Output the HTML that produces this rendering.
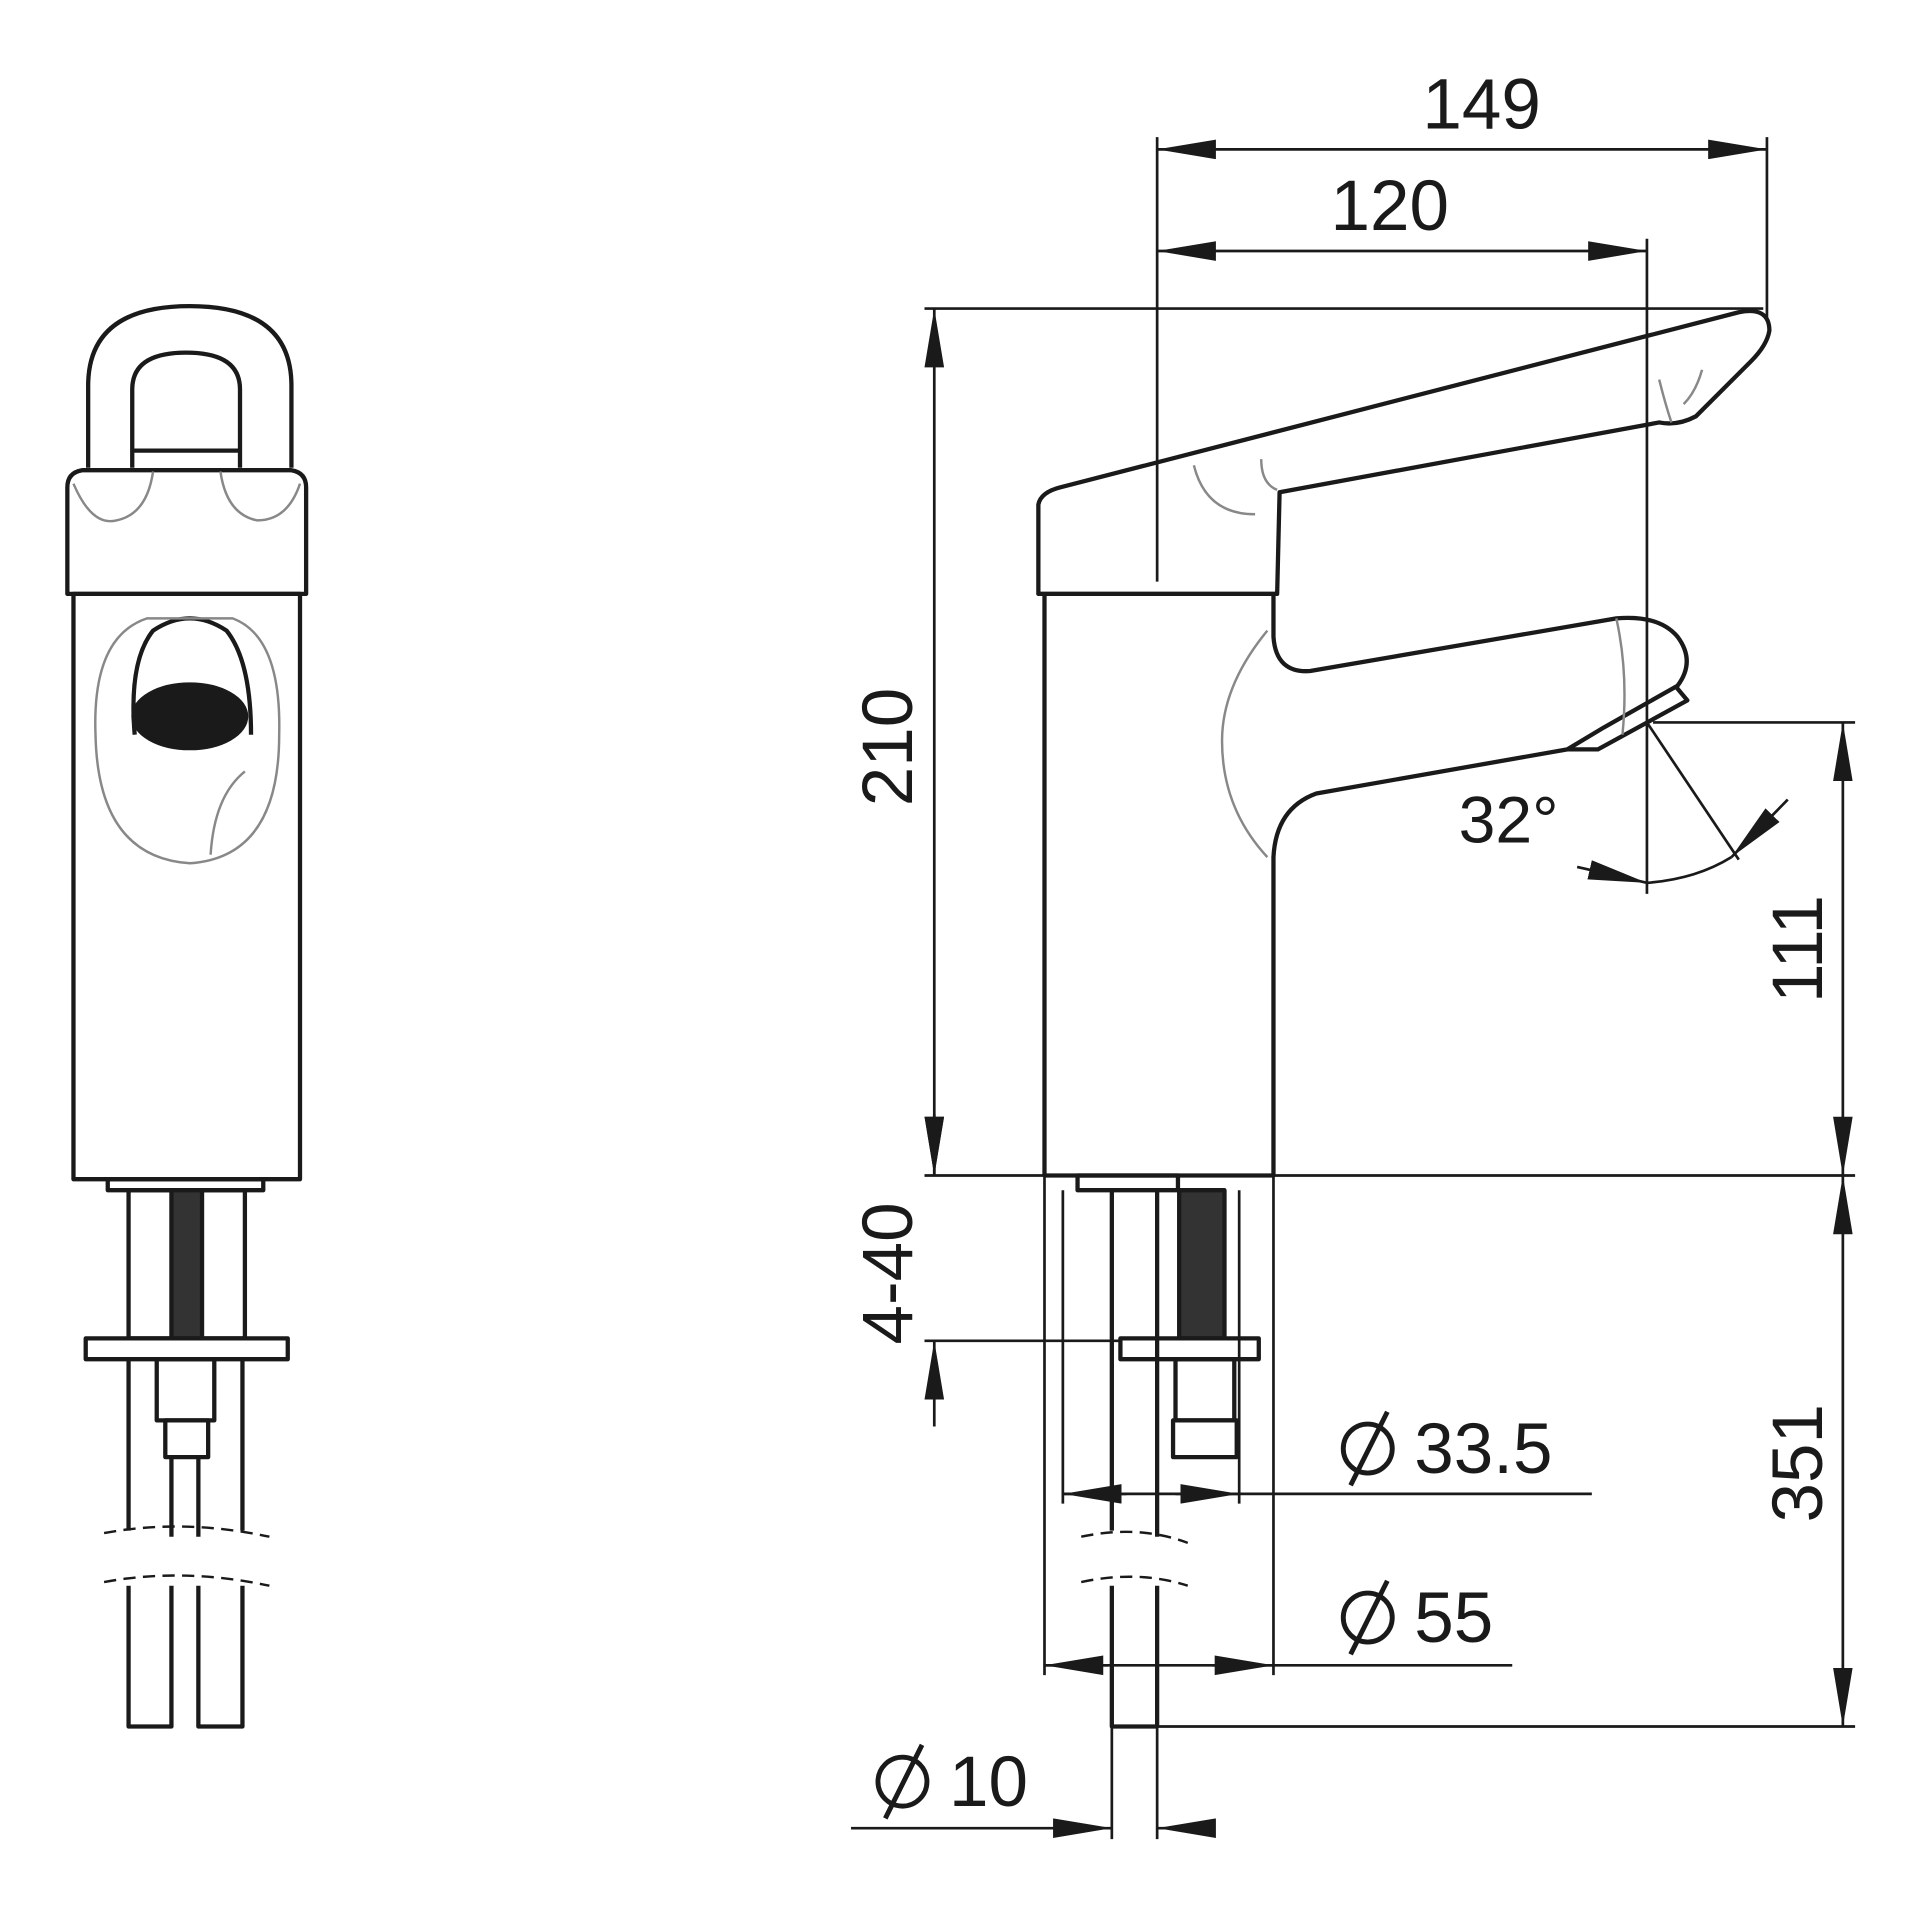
<!DOCTYPE html>
<html><head><meta charset="utf-8"><style>
html,body{margin:0;padding:0;background:#fff}
svg{display:block}
text{font-family:"Liberation Sans",sans-serif;fill:#1a1a1a}
</style></head><body>
<svg width="1920" height="1920" viewBox="0 0 1568 1568" xmlns="http://www.w3.org/2000/svg">
<defs>
<marker id="a" viewBox="0 0 48 16" refX="48" refY="8" markerWidth="48" markerHeight="16" markerUnits="userSpaceOnUse" orient="auto-start-reverse"><path d="M0,0 L48,8 L0,16 Z" fill="#1a1a1a"/></marker>
</defs>
<g fill="none" stroke="#1a1a1a" stroke-width="3.5" stroke-linejoin="round">
<!-- LEFT VIEW -->
<path d="M72,382 L72,315 Q72,250 155,250 Q238,250 238,315 L238,382"/>
<path d="M108,382 L108,318 Q108,288 152,288 Q196,288 196,318 L196,382"/>
<line x1="108" y1="368" x2="196" y2="368"/>
<path d="M55,485 L55,398 Q55,386 67,384 L238,384 Q250,386 250,398 L250,485 Z"/>
<rect x="60" y="485" width="185" height="478"/>
<path d="M110,600 Q105,540 125,515 Q155,495 185,515 Q205,540 205,600" />
<ellipse cx="155" cy="585" rx="46" ry="26" fill="#1a1a1a"/>
<rect x="88" y="963" width="127" height="9"/>
<rect x="105" y="972" width="95" height="121"/>
<rect x="140" y="972" width="25" height="121" fill="#333"/>
<rect x="70" y="1093" width="165" height="17"/>
<rect x="128" y="1110" width="47" height="50"/>
<rect x="135" y="1160" width="35" height="30"/>
<line x1="105" y1="1110" x2="105" y2="1250"/><line x1="140" y1="1190" x2="140" y2="1255"/>
<line x1="162" y1="1190" x2="162" y2="1255"/><line x1="198" y1="1110" x2="198" y2="1250"/>
<path d="M105,1295 L105,1410 L140,1410 L140,1295 M162,1295 L162,1410 L198,1410 L198,1295"/>
<!-- RIGHT VIEW -->
<path d="M848,485 L848,412 Q850,402 866,398 L1420,255 Q1445,250 1445,270 Q1443,282 1430,295 L1385,340 Q1370,348 1355,345 L1045,402 L1043,485 Z"/>
<line x1="848" y1="485" x2="1043" y2="485"/>
<path d="M853,485 L853,960 L1040,960 L1040,700 Q1042,660 1075,648 L1280,612 L1310,594 L1370,560 Q1385,540 1370,520 Q1355,502 1320,505 L1070,548 Q1042,550 1040,520 L1040,485"/>
<path d="M1280,612 L1305,612 L1378,572 L1368,560" />
<rect x="880" y="960" width="82" height="12"/>
<line x1="908" y1="972" x2="908" y2="1250"/><line x1="945" y1="972" x2="945" y2="1255"/>
<rect x="963" y="972" width="37" height="121" fill="#333"/>
<rect x="915" y="1093" width="113" height="17"/>
<rect x="960" y="1110" width="48" height="50"/>
<rect x="958" y="1160" width="52" height="30"/>
<path d="M908,1295 L908,1410 L945,1410 L945,1295"/>
</g>
<g fill="none" stroke="#888" stroke-width="2">
<path d="M78,600 Q75,520 120,505 L190,505 Q230,520 228,600 Q228,700 155,705 Q80,700 78,600 Z"/>
<path d="M172,698 Q175,650 200,630"/>
<path d="M60,395 Q75,430 95,425 Q120,420 125,385 M180,385 Q185,420 210,425 Q235,425 245,395"/>
<path d="M1035,515 Q998,560 998,605 Q998,660 1035,700"/>
<path d="M975,380 Q985,420 1025,420 M1030,375 Q1030,395 1043,400"/>
<path d="M1320,505 Q1330,550 1325,600 M1355,310 Q1360,330 1365,345 M1390,302 Q1385,320 1375,330"/>
</g>
<g fill="none" stroke="#1a1a1a" stroke-width="2" stroke-dasharray="10,6">
<path d="M85,1252 Q150,1240 220,1255 M85,1292 Q150,1280 220,1295"/>
<path d="M883,1255 Q930,1245 970,1260 M883,1292 Q930,1282 970,1295"/>
</g>
<!-- DIMENSIONS -->
<g stroke="#1a1a1a" stroke-width="2.2" fill="none">
<line x1="945" y1="112" x2="945" y2="475"/>
<line x1="1443" y1="112" x2="1443" y2="262"/>
<line x1="1345" y1="195" x2="1345" y2="730"/>
<line x1="945" y1="122" x2="1443" y2="122" marker-start="url(#a)" marker-end="url(#a)"/>
<line x1="945" y1="205" x2="1345" y2="205" marker-start="url(#a)" marker-end="url(#a)"/>
<line x1="755" y1="252" x2="1440" y2="252"/>
<line x1="763" y1="252" x2="763" y2="960" marker-start="url(#a)" marker-end="url(#a)"/>
<line x1="755" y1="960" x2="853" y2="960"/><line x1="1040" y1="960" x2="1515" y2="960"/>
<line x1="1350" y1="590" x2="1515" y2="590"/>
<line x1="1505" y1="590" x2="1505" y2="960" marker-start="url(#a)" marker-end="url(#a)"/>
<line x1="1505" y1="960" x2="1505" y2="1410" marker-start="url(#a)" marker-end="url(#a)"/>
<line x1="945" y1="1410" x2="1515" y2="1410"/>
<line x1="755" y1="1095" x2="915" y2="1095"/>
<line x1="763" y1="910" x2="763" y2="960" marker-end="url(#a)"/>
<line x1="763" y1="1165" x2="763" y2="1095" marker-end="url(#a)"/>
<line x1="868" y1="972" x2="868" y2="1228"/><line x1="1012" y1="972" x2="1012" y2="1228"/>
<line x1="868" y1="1220" x2="1300" y2="1220"/>
<line x1="920" y1="1220" x2="868" y2="1220" marker-end="url(#a)"/>
<line x1="960" y1="1220" x2="1012" y2="1220" marker-end="url(#a)"/>
<line x1="853" y1="960" x2="853" y2="1368"/><line x1="1040" y1="960" x2="1040" y2="1368"/>
<line x1="853" y1="1360" x2="1235" y2="1360"/>
<line x1="905" y1="1360" x2="853" y2="1360" marker-end="url(#a)"/>
<line x1="990" y1="1360" x2="1040" y2="1360" marker-end="url(#a)"/>
<line x1="908" y1="1410" x2="908" y2="1502"/><line x1="945" y1="1410" x2="945" y2="1502"/>
<line x1="695" y1="1493" x2="908" y2="1493" marker-end="url(#a)"/>
<line x1="990" y1="1493" x2="945" y2="1493" marker-end="url(#a)"/>
<line x1="1345" y1="590" x2="1420" y2="702"/>
<path d="M1345,721 Q1385,718 1414,700"/>
<line x1="1288" y1="708" x2="1345" y2="721" marker-end="url(#a)"/>
<line x1="1460" y1="653" x2="1414" y2="700" marker-end="url(#a)"/>
</g>
<g stroke="#1a1a1a" stroke-width="4" fill="none">
<circle cx="1117" cy="1183" r="20"/><line x1="1103" y1="1213" x2="1133" y2="1153"/>
<circle cx="1117" cy="1321" r="20"/><line x1="1103" y1="1351" x2="1133" y2="1291"/>
<circle cx="737" cy="1455" r="20"/><line x1="723" y1="1485" x2="753" y2="1425"/>
</g>
<g font-size="58">
<text x="1210" y="105" text-anchor="middle">149</text>
<text x="1135" y="188" text-anchor="middle">120</text>
<text x="1232" y="688" text-anchor="middle" font-size="54">32°</text>
<text transform="translate(745,610) rotate(-90)" text-anchor="middle">210</text>
<text transform="translate(1488,775) rotate(-90)" text-anchor="middle">111</text>
<text transform="translate(1488,1195) rotate(-90)" text-anchor="middle">351</text>
<text transform="translate(745,1040) rotate(-90)" text-anchor="middle">4-40</text>
<text x="1155" y="1203">33.5</text>
<text x="1155" y="1341">55</text>
<text x="775" y="1475">10</text>
</g>
</svg>
</body></html>
